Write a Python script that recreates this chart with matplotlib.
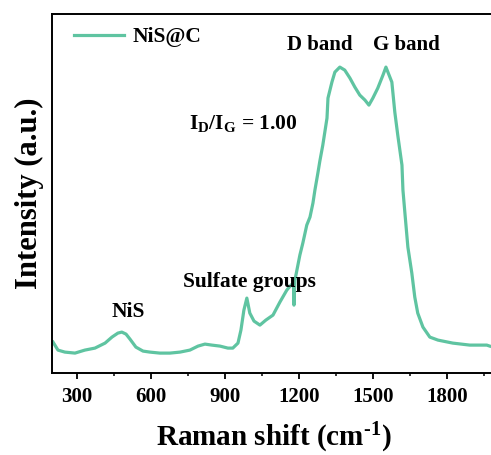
import matplotlib
matplotlib.use('Agg')
import matplotlib.pyplot as plt
from matplotlib.ticker import MultipleLocator

plt.rcParams['font.family'] = 'Liberation Serif'
plt.rcParams['font.weight'] = 'bold'
plt.rcParams['mathtext.fontset'] = 'custom'
plt.rcParams['mathtext.rm'] = 'Liberation Serif:bold'
plt.rcParams['mathtext.bf'] = 'Liberation Serif:bold'
plt.rcParams['mathtext.it'] = 'Liberation Serif:bold'
plt.rcParams['axes.unicode_minus'] = False

# Raman spectrum of NiS@C
shift = [203, 223, 251, 292, 332, 373, 414, 442, 466, 482, 499, 515, 539, 568,
         596, 636, 677, 718, 758, 791, 819, 847, 880, 912, 932, 953, 965, 977,
         989, 1001, 1018, 1042, 1066, 1095, 1123, 1151, 1168, 1178, 1180, 1184,
         1192, 1204, 1216, 1232, 1245, 1257, 1265, 1277, 1285, 1297, 1314, 1318,
         1334, 1346, 1366, 1386, 1407, 1427, 1447, 1468, 1484, 1500, 1520, 1541,
         1553, 1561, 1577, 1589, 1601, 1618, 1622, 1630, 1642, 1658, 1670, 1682,
         1703, 1731, 1764, 1824, 1893, 1962, 1974]
intensity = [31, 23, 21, 20, 23, 25, 30, 36, 40, 41, 39, 34, 26, 22,
             21, 20, 20, 21, 23, 27, 29, 28, 27, 25, 25, 30, 43, 63,
             75, 60, 52, 48, 53, 58, 71, 83, 88, 90, 68, 93,
             103, 118, 130, 148, 156, 170, 183, 200, 212, 228, 255, 275,
             291, 301, 306, 303, 295, 286, 278, 273, 268, 275, 285, 298,
             306, 301, 291, 261, 238, 208, 183, 160, 126, 100, 76, 60,
             46, 36, 33, 30, 28, 28, 27]

color = '#5fc4a1'

fig = plt.figure(figsize=(4.91, 4.55), dpi=100)
ax = fig.add_axes([0.1065, 0.180, 0.904, 0.789])
ax.plot(shift, intensity, color=color, linewidth=2.3, label='NiS@C')

ax.set_xlim(200, 2000)
ax.set_ylim(0, 359)
ax.xaxis.set_major_locator(MultipleLocator(300))
ax.xaxis.set_minor_locator(MultipleLocator(150))
ax.set_yticks([])
ax.tick_params(axis='x', which='major', direction='out', length=4, width=1.3,
               labelsize=15, pad=6)
ax.tick_params(axis='x', which='minor', direction='out', length=2.5, width=1.1)
for s in ax.spines.values():
    s.set_linewidth(1.4)

ax.set_xlabel(r'Raman shift (cm$^{\text{-1}}$)', fontsize=21, fontweight='bold', labelpad=10)
ax.set_ylabel('Intensity (a.u.)', fontsize=22, fontweight='bold', labelpad=6)

ax.legend(loc='upper left', frameon=False, fontsize=15.5, handlelength=2.3,
          borderaxespad=0.2, handletextpad=0.4, bbox_to_anchor=(0.02, 1.0))

ax.text(1285, 328, 'D band', fontsize=15, fontweight='bold', ha='center', va='center')
ax.text(1634, 328, 'G band', fontsize=15, fontweight='bold', ha='center', va='center')
ax.text(755, 250, r'I$_\mathregular{D}$/I$_\mathregular{G}$ = 1.00', fontsize=15.5,
        fontweight='bold', ha='left', va='center')
ax.text(507, 61, 'NiS', fontsize=15.5, fontweight='bold', ha='center', va='center')
ax.text(1001, 91, 'Sulfate groups', fontsize=15.5, fontweight='bold', ha='center', va='center')

fig.savefig('out.png', dpi=100)
